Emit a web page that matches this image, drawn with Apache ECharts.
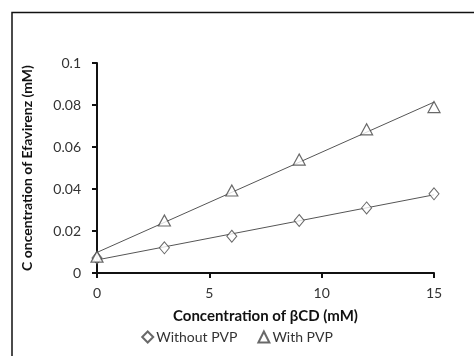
<!DOCTYPE html>
<html>
<head>
<meta charset="utf-8">
<script src="https://cdn.jsdelivr.net/npm/echarts@6/dist/echarts.min.js"></script>
<style>
  html, body { margin: 0; padding: 0; background: #fff; }
  #chart { width: 474px; height: 356px; }
</style>
</head>
<body>
<div id="chart"></div>
<script>
// βCD concentration (mM)
var concentrations = [0, 3, 6, 9, 12, 15];
// efavirenz concentration (mM)
var withoutPVP = [0.0072, 0.012, 0.0175, 0.025, 0.031, 0.0377];
var withPVP = [0.0078, 0.025, 0.0393, 0.054, 0.0684, 0.079];
var xTicks = [0, 5, 10, 15];
var yTicks = [0, 0.02, 0.04, 0.06, 0.08, 0.1];

// linear trend line like the spreadsheet one
function trend(xs, ys) {
  var n = xs.length, mx = 0, my = 0;
  for (var i = 0; i < n; i++) { mx += xs[i] / n; my += ys[i] / n; }
  var sxy = 0, sxx = 0;
  for (var j = 0; j < n; j++) {
    sxy += (xs[j] - mx) * (ys[j] - my);
    sxx += (xs[j] - mx) * (xs[j] - mx);
  }
  var b = sxy / sxx, a = my - b * mx;
  var x0 = xs[0], x1 = xs[n - 1];
  return [[x0, a + b * x0], [x1, a + b * x1]];
}

function pairs(xs, ys) {
  return xs.map(function (x, i) { return [x, ys[i]]; });
}

var font = 'Lato, "Open Sans", sans-serif';
var chart = echarts.init(document.getElementById('chart'));

chart.setOption({
  animation: false,
  textStyle: { fontFamily: font },
  grid: { left: 97, right: 40, top: 63, bottom: 83 },
  graphic: [{
    type: 'polyline',
    shape: { points: [[12, 356], [12, 12.5], [474, 12.5]] },
    style: { stroke: '#111', lineWidth: 1.5, fill: null }
  }],
  legend: {
    bottom: 7,
    left: 'center',
    itemWidth: 11,
    itemHeight: 11,
    itemGap: 20,
    data: ['Without PVP', 'With PVP'],
    textStyle: { fontFamily: font, fontSize: 14, color: '#333', padding: [0, 0, 0, -2] }
  },
  xAxis: {
    type: 'value',
    min: xTicks[0],
    max: xTicks[xTicks.length - 1],
    interval: 5,
    name: 'Concentration of βCD (mM)',
    nameLocation: 'middle',
    nameGap: 36,
    nameTextStyle: { fontFamily: font, fontSize: 15, fontWeight: 'bold', color: '#111' },
    splitLine: { show: false },
    axisLine: { onZero: false, lineStyle: { color: '#111', width: 2 } },
    axisTick: { length: 5, lineStyle: { color: '#111', width: 2 } },
    axisLabel: { margin: 13, fontSize: 14, color: '#333', fontFamily: font }
  },
  yAxis: {
    type: 'value',
    min: yTicks[0],
    max: yTicks[yTicks.length - 1],
    interval: 0.02,
    name: 'C oncentration of Efavirenz (mM)',
    nameLocation: 'middle',
    nameGap: 63,
    nameTextStyle: { fontFamily: font, fontSize: 14, fontWeight: 'bold', color: '#111' },
    splitLine: { show: false },
    axisLine: { show: true, lineStyle: { color: '#111', width: 2 } },
    axisTick: { show: true, length: 5, lineStyle: { color: '#111', width: 2 } },
    axisLabel: {
      margin: 16, fontSize: 14, color: '#333', fontFamily: font,
      formatter: function (v) { return String(+v.toFixed(2)); }
    }
  },
  series: [
    {
      name: 'Without PVP',
      type: 'scatter',
      symbol: 'diamond',
      symbolSize: [10, 12],
      itemStyle: { color: '#fff', borderColor: '#444', borderWidth: 1 },
      data: pairs(concentrations, withoutPVP),
      z: 3
    },
    {
      name: 'With PVP',
      type: 'scatter',
      symbol: 'triangle',
      symbolSize: [12, 11],
      itemStyle: { color: '#fff', borderColor: '#444', borderWidth: 1.2 },
      data: pairs(concentrations, withPVP),
      z: 3
    },
    {
      name: 'fit1',
      type: 'line',
      showSymbol: false,
      lineStyle: { color: '#555', width: 1 },
      data: trend(concentrations, withoutPVP),
      z: 2
    },
    {
      name: 'fit2',
      type: 'line',
      showSymbol: false,
      lineStyle: { color: '#555', width: 1 },
      data: trend(concentrations, withPVP),
      z: 2
    }
  ]
});
</script>
</body>
</html>
